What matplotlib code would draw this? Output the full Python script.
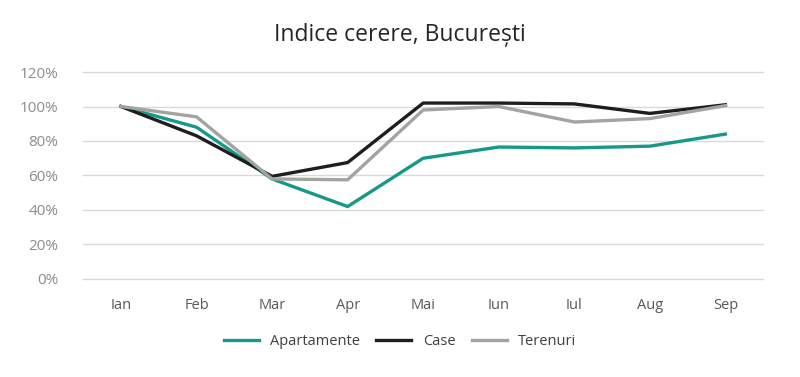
import matplotlib.pyplot as plt
from matplotlib.ticker import PercentFormatter

plt.rcParams['font.family'] = ['Open Sans', 'DejaVu Sans']

months = ['Ian', 'Feb', 'Mar', 'Apr', 'Mai', 'Iun', 'Iul', 'Aug', 'Sep']
apartamente = [100, 88, 58, 42, 70, 76.5, 76, 77, 84]
case = [100, 83, 59.5, 67.5, 102, 102, 101.5, 96, 101]
terenuri = [100, 94, 58, 57.5, 98, 100, 91, 93, 100.5]

fig = plt.figure(figsize=(8, 3.77), dpi=100)
ax = fig.add_axes([0.104, 0.26, 0.85, 0.549])

x = range(len(months))
ax.plot(x, apartamente, color='#17998a', lw=2.4, label='Apartamente')
ax.plot(x, case, color='#1e1e1e', lw=2.4, label='Case')
ax.plot(x, terenuri, color='#a3a3a3', lw=2.4, label='Terenuri')

ax.set_xlim(-0.5, 8.5)
ax.set_ylim(0, 120)
ax.set_yticks(range(0, 121, 20))
ax.yaxis.set_major_formatter(PercentFormatter(decimals=0))
ax.set_xticks(list(x))
ax.set_xticklabels(months)
ax.grid(axis='y', color='#d9d9d9', lw=1)
for g in ax.get_ygridlines():
    g.set_clip_on(False)
ax.set_axisbelow(True)
for s in ax.spines.values():
    s.set_visible(False)
ax.tick_params(length=0, labelsize=10.5, labelcolor='#595959')
ax.tick_params(axis='x', pad=14)
ax.tick_params(axis='y', pad=18, labelsize=11, labelcolor='#8c8c8c')

fig.suptitle('Indice cerere, București', y=0.94, fontsize=16.5, color='#262626')
fig.legend(loc='center', bbox_to_anchor=(0.5, 0.095), ncol=3, frameon=False,
           fontsize=10.5, handlelength=2.4, columnspacing=1.1, labelcolor='#404040')

fig.savefig('out.png', dpi=100)
